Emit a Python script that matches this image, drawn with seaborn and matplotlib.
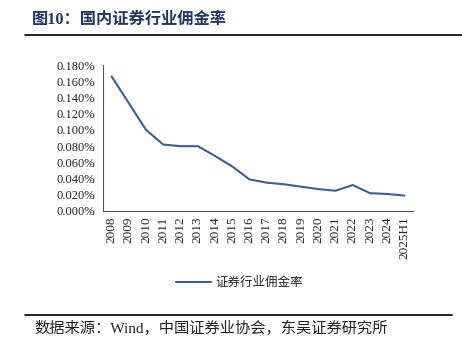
import numpy as np
import pandas as pd
import matplotlib
matplotlib.use("Agg")
import matplotlib.pyplot as plt
from matplotlib.lines import Line2D
from matplotlib.ticker import FuncFormatter, FixedLocator
import seaborn as sns

sns.set_style("white")
plt.rcParams["font.family"] = ["Liberation Serif", "Noto Sans CJK SC"]

years = ["2008", "2009", "2010", "2011", "2012", "2013", "2014", "2015", "2016",
         "2017", "2018", "2019", "2020", "2021", "2022", "2023", "2024", "2025H1"]
rate = [0.166, 0.133, 0.100, 0.082, 0.080, 0.080, 0.068, 0.055, 0.039,
        0.035, 0.033, 0.030, 0.027, 0.025, 0.032, 0.022, 0.021, 0.019]
series_name = "证券行业佣金率"

df = pd.DataFrame({"year": years, "rate": rate, "series": series_name})
df["pos"] = np.arange(len(df))

fig = plt.figure(figsize=(4.62, 3.54), dpi=100)
ax = fig.add_axes([0.223, 0.404, 0.671, 0.412])

sns.lineplot(data=df, x="pos", y="rate", hue="series", palette=["#3A5F9B"],
             linewidth=1.5, ax=ax, legend=True)

ax.set_xlim(-0.5, len(years) - 0.5)
ax.set_ylim(0, 0.18)
ax.set_yticks(np.arange(0, 0.1801, 0.02))
ax.yaxis.set_major_formatter(FuncFormatter(lambda v, p: f"{v:.3f}%"))
ax.set_xticks(df["pos"])
ax.set_xticklabels(years, rotation=90)
ax.xaxis.set_minor_locator(FixedLocator(np.arange(-0.5, len(years), 1.0)))
ax.tick_params(axis="x", which="major", length=0, pad=4, labelsize=9.5)
ax.tick_params(axis="x", which="minor", length=4, width=0.8, color="#555555", direction="out")
ax.tick_params(axis="y", length=4, width=0.8, color="#555555", direction="out", labelsize=9, pad=2)
ax.set_xlabel("")
ax.set_ylabel("")
for s in ["top", "right"]:
    ax.spines[s].set_visible(False)
for s in ["left", "bottom"]:
    ax.spines[s].set_color("#555555")
    ax.spines[s].set_linewidth(0.8)

leg = ax.legend(loc="center", bbox_to_anchor=(0.44, -0.49), frameon=False,
                fontsize=9, handlelength=2.8, handletextpad=0.3)
for t in leg.get_texts():
    t.set_fontfamily("Noto Sans CJK SC")

fig.text(0.07, 0.945, "图10：国内证券行业佣金率", fontsize=11.7, fontweight="bold",
         color="#1F3864", va="center", family=["Liberation Serif", "Noto Sans CJK SC"])
fig.add_artist(Line2D([25 / 462, 1.0], [1 - 35 / 354] * 2, color="black", linewidth=1.2))
fig.add_artist(Line2D([25 / 462, 452 / 462], [1 - 315 / 354] * 2, color="black", linewidth=1.2))
fig.text(0.075, 1 - 328 / 354, "数据来源：Wind，中国证券业协会，东吴证券研究所", fontsize=11,
         va="center", color="#222222", family=["Liberation Serif", "Noto Sans CJK SC"])

fig.savefig("out.png", dpi=100)
plt.close()
